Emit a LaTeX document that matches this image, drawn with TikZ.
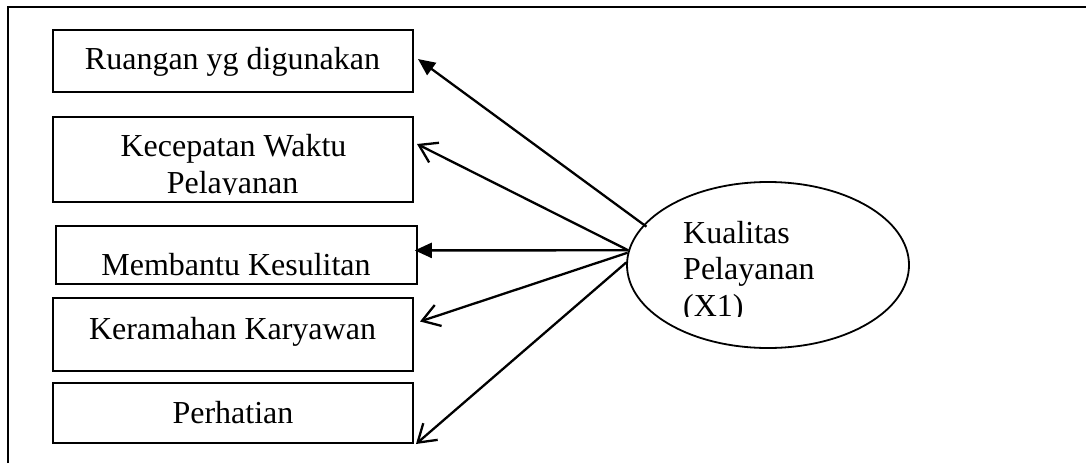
\documentclass[tikz,border=0pt]{standalone}
\usepackage{fontspec}
\setmainfont{Liberation Serif}
\usetikzlibrary{arrows.meta,shapes.geometric,calc}

\begin{document}
\begin{tikzpicture}[x=1pt,y=-1pt,
  txt/.style={font=\fontsize{32}{36.5}\selectfont, inner sep=0pt},
  box/.style={draw, line width=2pt, rectangle, inner sep=0pt, minimum width=360.5pt},
  latent/.style={draw, ellipse, line width=1.8pt, inner sep=0pt},
  link/.style={line width=2.3pt},
  solidtip/.style={-{Triangle[length=17pt,width=15pt]}},
  opentip/.style={-{Straight Barb[length=17pt,width=22pt]}}]
\useasboundingbox (0,0) rectangle (1086,463);
\fill[white] (0,0) rectangle (1086,463);

% outer frame (left and top edges)
\draw[line width=2.3pt] (8.3,463) -- (8.3,7) -- (1086,7);

% indicator boxes
\node[box, minimum height=62.5pt] (b1) at (232.75,60.75) {};
\node[box, minimum height=85pt]   (b2) at (232.75,159.5) {};
\node[box, minimum height=58pt]   (b3) at (236.5,255) {};
\node[box, minimum height=73pt]   (b4) at (232.75,334.5) {};
\node[box, minimum height=60pt]   (b5) at (232.75,413) {};

% indicator labels
\node[txt, anchor=base] (t1) at (232.5,69.3) {Ruangan yg digunakan};
\node[txt, anchor=base] (t2a) at (233.5,156.7) {Kecepatan Waktu};
\begin{scope}
  \clip (50,117) rectangle (416,194.5);
  \node[txt, anchor=base] (t2b) at (232.5,193.3) {Pelayanan};
\end{scope}
\node[txt, anchor=base] (t3) at (236,275) {Membantu Kesulitan};
\node[txt, anchor=base] (t4) at (232.5,339.3) {Keramahan Karyawan};
\node[txt, anchor=base] (t5) at (233,423.3) {Perhatian};

% latent variable
\node[latent, minimum width=282pt, minimum height=166pt] (e) at (768,265) {};
\node[txt, anchor=base west] (k1) at (683,243.3) {Kualitas};
\node[txt, anchor=base west] (k2) at (683,279) {Pelayanan};
\begin{scope}
  \clip (640,290) rectangle (900,316);
  \node[txt, anchor=base west] (k3) at (683,316.5) {(X1)};
\end{scope}

% loadings
\draw[link, solidtip, shorten <=-3.5pt] (e.162) -- ($(b1.east)+(4,-1.75)$);
\draw[link, opentip] (e.174) -- ($(b2.east)+(3,-15.5)$);
\draw[link, solidtip] (e.174) -- ($(b3.east)+(-3,-4.6)$);
\draw[link, opentip] (e.175) -- ($(b4.east)+(6,-13)$);
\draw[link, opentip] (e.179) -- ($(b5.south east)+(2,0)$);
\end{tikzpicture}
\end{document}
